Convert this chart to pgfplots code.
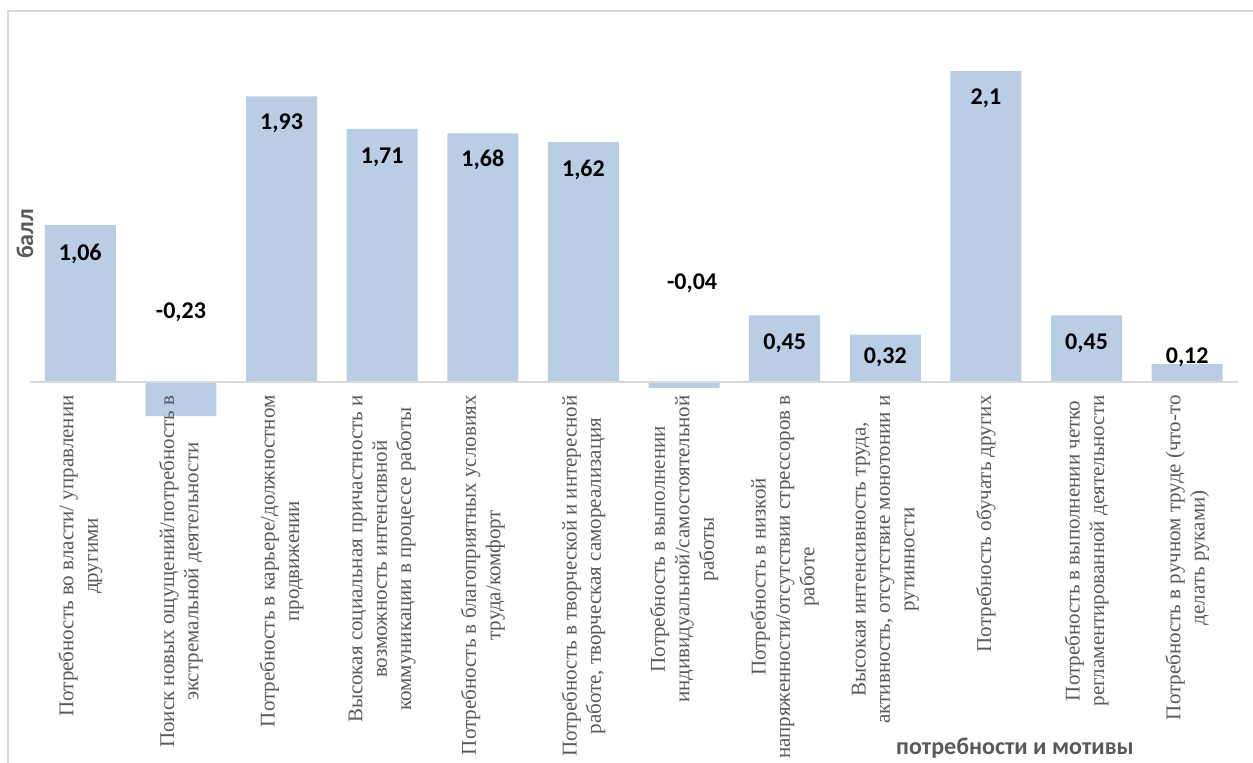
\documentclass[border=0pt]{standalone}
\usepackage{pgfplots}
\pgfplotsset{compat=1.18}
\usepackage{fontspec}
\setmainfont{Liberation Serif}
\newfontfamily\calibri{Carlito}

\definecolor{barblue}{HTML}{B9CDE5}
\definecolor{txtgray}{HTML}{595959}
\definecolor{linegray}{HTML}{D9D9D9}

\begin{document}
\begin{tikzpicture}
\path[use as bounding box] (-15pt,-190.5pt) rectangle (611.5pt,191pt);
\clip (-15pt,-190.5pt) rectangle (611.5pt,191pt);
% chart frame
\draw[linegray, line width=0.8pt] (-11pt,-200pt) -- (-11pt,185.5pt) -- (640pt,185.5pt);
\begin{axis}[
  scale only axis,
  width=603.75pt, height=170.2pt,
  xmin=-0.5, xmax=11.5,
  ymin=0, ymax=2.3,
  clip=false,
  axis lines*=left,
  y axis line style={draw=none},
  x axis line style={linegray, line width=0.8pt},
  ytick=\empty,
  xtick={0,...,11},
  major tick length=0pt,
  xticklabels={
    {Потребность во власти/ управлении\\другими},
    {Поиск новых ощущений/потребность в\\экстремальной деятельности},
    {Потребность в карьере/должностном\\продвижении},
    {Высокая социальная причастность и\\возможность интенсивной\\коммуникации в процессе работы},
    {Потребность в благоприятных условиях\\труда/комфорт},
    {Потребность в творческой и интересной\\работе, творческая самореализация},
    {Потребность в выполнении\\индивидуальной/самостоятельной\\работы},
    {Потребность в низкой\\напряженности/отсутствии стрессоров в\\работе},
    {Высокая интенсивность труда,\\активность, отсутствие монотонии и\\рутинности},
    {Потребность обучать других},
    {Потребность в выполнении четко\\регламентированной деятельности},
    {Потребность в ручном труде (что-то\\делать руками)}
  },
  xticklabel style={rotate=90, anchor=east, align=center, inner xsep=6.5pt, inner ysep=0pt,
    font=\fontsize{10.5}{12.2}\selectfont, text=txtgray},
  ylabel={балл},
  ylabel style={at={(rel axis cs:-0.0041,0.435)}, anchor=center,
    font=\calibri\bfseries\fontsize{12}{14}\selectfont, text=txtgray},
  xlabel={потребности и мотивы},
  xlabel style={at={(rel axis cs:0.8157,-1.075)}, anchor=center,
    font=\calibri\bfseries\fontsize{12}{14}\selectfont, text=txtgray},
  axis on top
]
\addplot[ybar, bar width=35.5pt, fill=barblue, draw=none] coordinates {
  (0,1.06) (1,-0.23) (2,1.93) (3,1.71) (4,1.68) (5,1.62)
  (6,-0.04) (7,0.45) (8,0.32) (9,2.1) (10,0.45) (11,0.12)
};
% data labels, placed as in the source chart
\addplot[only marks, mark=none, point meta=explicit symbolic,
  nodes near coords={\pgfplotspointmeta},
  nodes near coords style={anchor=center, text=black,
    font=\calibri\bfseries\fontsize{12}{14}\selectfont}] coordinates {
  (0,0.865) [1,06] (1,0.47) [-0,23] (2,1.747) [1,93] (3,1.517) [1,71]
  (4,1.50) [1,68] (5,1.432) [1,62] (6.08,0.666) [-0,04] (7,0.26) [0,45]
  (8,0.169) [0,32] (9,1.916) [2,1] (10,0.26) [0,45] (11,0.169) [0,12]
};
\end{axis}
\end{tikzpicture}
\end{document}
